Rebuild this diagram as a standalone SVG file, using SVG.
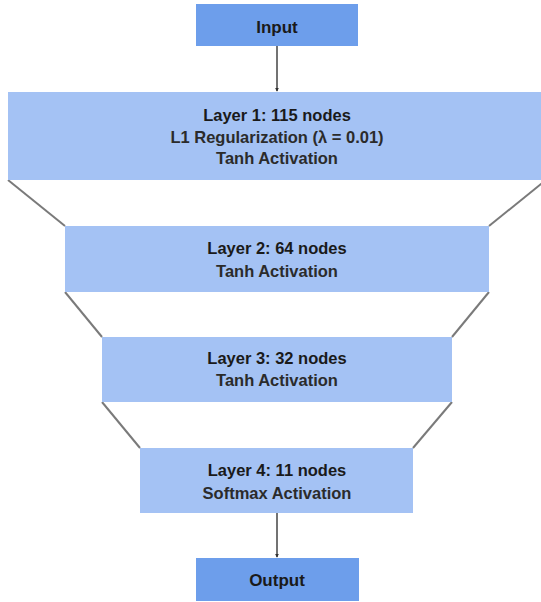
<svg xmlns="http://www.w3.org/2000/svg" width="541" height="602" viewBox="0 0 541 602">
<style>
.io{fill:#6d9eeb}
.layer{fill:#a4c2f4}
.t{font-family:"Liberation Sans",Arial,sans-serif;font-size:16.5px;fill:#1a1a1a;text-anchor:middle;font-weight:bold}
.s{font-weight:600;fill:#2b2b2b}
.big{font-size:17px}
.edge{stroke:#7a7a7a;stroke-width:2;fill:none}
.arrow{stroke:#444;stroke-width:1.5;fill:none;marker-end:url(#ah)}
</style>
<defs>
<marker id="ah" viewBox="0 0 6 6" refX="5" refY="3" markerWidth="4" markerHeight="4" orient="auto" markerUnits="userSpaceOnUse">
<path d="M0,0 L6,3 L0,6 z" fill="#333"/>
</marker>
</defs>
<rect width="541" height="602" fill="#fff"/>
<g id="connectors">
<line class="arrow" x1="277" y1="46" x2="277" y2="91"/>
<line class="arrow" x1="277" y1="513" x2="277" y2="557"/>
<line class="edge" x1="8" y1="180" x2="65" y2="226"/>
<line class="edge" x1="546" y1="180" x2="489" y2="226"/>
<line class="edge" x1="65" y1="292" x2="102" y2="337"/>
<line class="edge" x1="489" y1="292" x2="452" y2="337"/>
<line class="edge" x1="102" y1="402" x2="140" y2="448"/>
<line class="edge" x1="452" y1="402" x2="413" y2="448"/>
</g>
<g id="input">
<rect class="io" x="196" y="4" width="162" height="42"/>
<text class="t big" x="277" y="33">Input</text>
</g>
<g id="layer1">
<rect class="layer" x="8" y="92" width="540" height="88"/>
<text class="t" x="277" y="120.5">Layer 1: 115 nodes</text>
<text class="t s" x="277" y="142.5">L1 Regularization (λ = 0.01)</text>
<text class="t s" x="277" y="163.5">Tanh Activation</text>
</g>
<g id="layer2">
<rect class="layer" x="65" y="226" width="424" height="66"/>
<text class="t" x="277" y="254">Layer 2: 64 nodes</text>
<text class="t s" x="277" y="277">Tanh Activation</text>
</g>
<g id="layer3">
<rect class="layer" x="102" y="337" width="350" height="65"/>
<text class="t" x="277" y="364">Layer 3: 32 nodes</text>
<text class="t s" x="277" y="386">Tanh Activation</text>
</g>
<g id="layer4">
<rect class="layer" x="140" y="448" width="273" height="65"/>
<text class="t" x="277" y="476">Layer 4: 11 nodes</text>
<text class="t s" x="277" y="499">Softmax Activation</text>
</g>
<g id="output">
<rect class="io" x="196" y="558" width="163" height="43"/>
<text class="t big" x="277" y="586">Output</text>
</g>
</svg>
